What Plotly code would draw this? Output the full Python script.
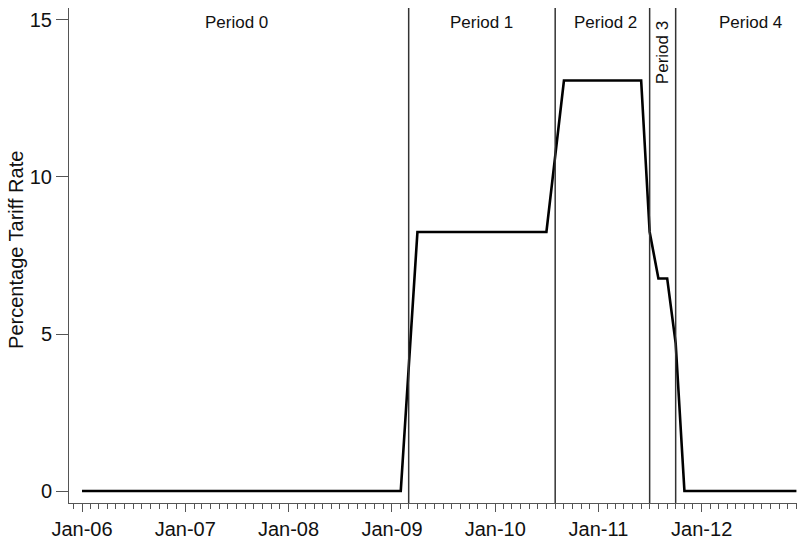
import plotly.graph_objects as go

# Breakpoints of the monthly tariff series (value holds between equal points)
months = ["2006-01-01", "2009-02-01", "2009-04-01", "2010-07-01", "2010-09-01",
          "2011-06-01", "2011-07-01", "2011-08-01", "2011-09-01", "2011-10-01",
          "2011-11-01", "2012-12-01"]
tariff = [0, 0, 8.25, 8.25, 13.07, 13.07, 8.25, 6.77, 6.77, 4.7, 0, 0]

# Period boundaries and labels
period_breaks = ["2009-03-01", "2010-08-01", "2011-07-01", "2011-10-01"]
period_labels = ["Period 0", "Period 1", "Period 2", "Period 3", "Period 4"]
period_label_x = ["2007-07-01", "2009-11-15", "2011-01-25", "2011-08-18", "2012-06-20"]

y_ticks = [0, 5, 10, 15]
x_ticks = ["2006-01-01", "2007-01-01", "2008-01-01", "2009-01-01",
           "2010-01-01", "2011-01-01", "2012-01-01"]
x_tick_text = ["Jan-06", "Jan-07", "Jan-08", "Jan-09", "Jan-10", "Jan-11", "Jan-12"]

FONT = "Liberation Sans, Arial, sans-serif"
AX = "#555555"

fig = go.Figure()
fig.add_trace(go.Scatter(x=months, y=tariff, mode="lines",
                         line=dict(color="black", width=2.6), showlegend=False,
                         hoverinfo="skip"))

for d in period_breaks:
    fig.add_shape(type="line", xref="x", yref="paper", x0=d, x1=d, y0=0, y1=1,
                  line=dict(color="#333333", width=1.5))

for lab, xd in zip(period_labels, period_label_x):
    if lab == "Period 3":
        fig.add_annotation(x=xd, y=13.95, xref="x", yref="y", text=lab, textangle=-90,
                           showarrow=False, font=dict(family=FONT, size=17, color="#111"))
    else:
        fig.add_annotation(x=xd, y=14.92, xref="x", yref="y", text=lab,
                           showarrow=False, font=dict(family=FONT, size=17, color="#111"))

fig.add_annotation(xref="paper", yref="paper", x=-0.073, y=0.511, text="Percentage Tariff Rate",
                   textangle=-90, showarrow=False, xanchor="center", yanchor="middle",
                   font=dict(family=FONT, size=20, color="#111"))

fig.update_layout(
    width=797, height=540,
    margin=dict(l=69, r=0, t=8, b=37),
    paper_bgcolor="white", plot_bgcolor="white",
    font=dict(family=FONT, size=20, color="#111"),
    showlegend=False,
)
fig.update_xaxes(
    range=["2005-11-16", "2012-12-03"],
    tickmode="array", tickvals=x_ticks, ticktext=x_tick_text,
    ticks="outside", ticklen=8, tickwidth=1, tickcolor=AX,
    showline=True, linecolor=AX, linewidth=1, showgrid=False, zeroline=False,
    minor=dict(dtick="M1", tick0="2006-01-01", ticks="outside", ticklen=5,
               tickcolor=AX, showgrid=False),
    automargin=False,
)
fig.update_yaxes(
    range=[-0.38, 15.38],
    tickmode="array", tickvals=y_ticks,
    ticks="outside", ticklen=12, tickwidth=1, tickcolor=AX,
    showline=True, linecolor=AX, linewidth=1, showgrid=False, zeroline=False,
    automargin=False,
)

fig.write_html("out.html", config={"displayModeBar": False},
               post_script="document.body.style.margin='0';document.body.style.overflow='hidden';")
